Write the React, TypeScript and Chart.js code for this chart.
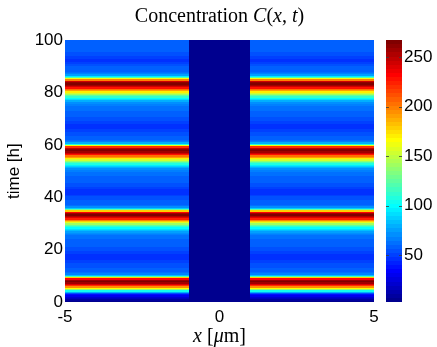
import React, { useEffect, useRef } from "react";
import { Chart, registerables } from "chart.js";

Chart.register(...registerables);

// x bin edges [µm]: left region, central gap, right region
const xEdges = [-5, -1, 1, 5];
// concentration in the central gap
const centerC = 0;
// time bin width [h]
const tStep = 0.5;
// concentration in outer regions, per 0.5 h bin from t = 0
const outerC = [
  6, 10, 16, 22, 30, 38,
  55, 78, 105, 135, 165, 195, 218, 240, 255, 264, 258, 232, 180, 120, 85, 68, 62, 60,
  58, 57, 56, 55, 54, 53, 52, 50, 48, 47, 46, 47, 48, 50, 52, 54, 55, 56, 57, 57, 58, 58, 59, 60, 61, 62, 64, 66,
  70, 75, 82, 90, 100, 112, 125, 140, 158, 178, 200, 222, 240, 254, 263, 258, 232, 180, 125, 88, 70, 63, 60, 59,
  58, 57, 56, 55, 53, 51, 48, 47, 46, 47, 49, 51, 53, 55, 56, 57, 58, 58, 59, 60, 61, 62, 63, 65, 68,
  72, 78, 86, 96, 108, 122, 138, 155, 172, 190, 205, 228, 246, 258, 265, 262, 248, 218, 160, 110, 80, 66, 61, 59, 58,
  57, 56, 55, 54, 52, 50, 48, 47, 47, 48, 50, 52, 54, 55, 56, 57, 58, 58, 59, 60, 61, 62, 63, 64, 66, 69,
  73, 80, 90, 100, 112, 125, 140, 155, 172, 190, 205, 226, 245, 258, 265, 262, 245, 200, 160, 120, 95, 75, 65, 61, 59, 59,
  58, 57, 55, 53, 50, 48, 47, 48, 50, 52, 54, 55, 56, 57, 57, 58, 58, 59, 59, 60, 60, 60,
];
const xTicks = [-5, 0, 5];
const yTicks = [0, 20, 40, 60, 80, 100];
const cbTicks = [50, 100, 150, 200, 250];
const cMin = 3;
const cMax = 267;

// MATLAB jet(64)
function jetU(j: number): number {
  if (j < 1 || j > 47) return 0;
  if (j <= 16) return j / 16;
  if (j <= 31) return 1;
  return (48 - j) / 16;
}
function jet64(k: number): string {
  const i = k + 1;
  const g = i >= 9 && i <= 55 ? jetU(i - 8) : 0;
  const r = i >= 25 ? jetU(i - 24) : 0;
  const b = i <= 39 ? jetU(i + 8) : 0;
  return `rgb(${Math.round(r * 255)},${Math.round(g * 255)},${Math.round(b * 255)})`;
}
function colorFor(v: number): string {
  let k = Math.floor(((v - cMin) / (cMax - cMin)) * 64);
  if (k < 0) k = 0;
  if (k > 63) k = 63;
  return jet64(k);
}

const heatmapPlugin = {
  id: "heatmap",
  beforeDatasetsDraw(chart: any) {
    const { ctx } = chart;
    const xs = chart.scales.x;
    const ys = chart.scales.y;
    ctx.save();
    for (let c = 0; c < xEdges.length - 1; c++) {
      const x0 = Math.round(xs.getPixelForValue(xEdges[c]));
      const x1 = Math.round(xs.getPixelForValue(xEdges[c + 1]));
      for (let i = 0; i < outerC.length; i++) {
        const v = c === 1 ? centerC : outerC[i];
        const y0 = Math.round(ys.getPixelForValue(i * tStep));
        const y1 = Math.round(ys.getPixelForValue((i + 1) * tStep));
        ctx.fillStyle = colorFor(v);
        ctx.fillRect(x0, y1, x1 - x0, y0 - y1);
      }
    }
    // colorbar
    const cb = chart.scales.cb;
    const cx0 = cb.left + 12;
    const cx1 = cb.left + 28;
    for (let k = 0; k < 64; k++) {
      const v0 = cMin + (k * (cMax - cMin)) / 64;
      const v1 = cMin + ((k + 1) * (cMax - cMin)) / 64;
      const p0 = Math.round(cb.getPixelForValue(v0));
      const p1 = Math.round(cb.getPixelForValue(v1));
      ctx.fillStyle = jet64(k);
      ctx.fillRect(cx0, p1, cx1 - cx0, p0 - p1);
    }
    ctx.strokeStyle = "rgba(60,60,60,0.8)";
    ctx.lineWidth = 1;
    for (const t of cbTicks) {
      const py = Math.round(cb.getPixelForValue(t)) + 0.5;
      ctx.beginPath();
      ctx.moveTo(cx0, py);
      ctx.lineTo(cx0 + 3, py);
      ctx.moveTo(cx1, py);
      ctx.lineTo(cx1 - 3, py);
      ctx.stroke();
    }
    ctx.restore();
  },
};

function drawMixed(ctx: any, parts: [string, boolean][], cx: number, baseline: number, size: number, family: string) {
  const widths = parts.map(([s, it]) => {
    ctx.font = `${it ? "italic " : ""}${size}px ${family}`;
    return ctx.measureText(s).width;
  });
  const total = widths.reduce((a, b) => a + b, 0);
  let x = cx - total / 2;
  ctx.textAlign = "left";
  ctx.textBaseline = "alphabetic";
  parts.forEach(([s, it], idx) => {
    ctx.font = `${it ? "italic " : ""}${size}px ${family}`;
    ctx.fillText(s, x, baseline);
    x += widths[idx];
  });
}

const labelsPlugin = {
  id: "labels",
  afterDraw(chart: any) {
    const { ctx, chartArea } = chart;
    const cx = (chartArea.left + chartArea.right) / 2;
    ctx.save();
    ctx.fillStyle = "#000";
    const serif = "'Liberation Serif', 'DejaVu Serif', serif";
    drawMixed(
      ctx,
      [
        ["Concentration ", false],
        ["C", true],
        ["(", false],
        ["x", true],
        [", ", false],
        ["t", true],
        [")", false],
      ],
      cx,
      22,
      20,
      serif
    );
    drawMixed(
      ctx,
      [
        ["x", true],
        [" [", false],
        ["μ", true],
        ["m]", false],
      ],
      cx,
      342,
      20,
      serif
    );
    ctx.translate(19, (chartArea.top + chartArea.bottom) / 2);
    ctx.rotate(-Math.PI / 2);
    ctx.font = "17px 'Liberation Sans', Arial, sans-serif";
    ctx.textAlign = "center";
    ctx.textBaseline = "alphabetic";
    ctx.fillText("time [h]", 0, 0);
    ctx.restore();
  },
};

const tickFont = { family: "'Liberation Sans', Arial, sans-serif", size: 17 };

export default function App() {
  const ref = useRef<HTMLCanvasElement | null>(null);
  useEffect(() => {
    if (!ref.current) return;
    const chart = new Chart(ref.current, {
      type: "scatter",
      data: { datasets: [{ data: [] }] },
      options: {
        animation: false,
        responsive: false,
        layout: { padding: { top: 37.5, left: 0, right: 0, bottom: 0 } },
        plugins: { legend: { display: false }, tooltip: { enabled: false }, title: { display: false } },
        scales: {
          x: {
            type: "linear",
            position: "bottom",
            min: -5,
            max: 5,
            afterBuildTicks: (s: any) => {
              s.ticks = xTicks.map((v) => ({ value: v }));
            },
            afterFit: (s: any) => {
              s.height = 45;
            },
            grid: { display: false, drawTicks: false },
            border: { display: false },
            ticks: { font: tickFont, color: "#000", padding: 5, maxRotation: 0, autoSkip: false },
          },
          y: {
            type: "linear",
            position: "left",
            min: 0,
            max: 100,
            afterBuildTicks: (s: any) => {
              s.ticks = yTicks.map((v) => ({ value: v }));
            },
            afterFit: (s: any) => {
              s.width = 65;
            },
            grid: { display: false, drawTicks: false },
            border: { display: false },
            ticks: { font: tickFont, color: "#000", padding: 2, autoSkip: false },
          },
          cb: {
            type: "linear",
            position: "right",
            min: cMin,
            max: cMax,
            afterBuildTicks: (s: any) => {
              s.ticks = cbTicks.map((v) => ({ value: v }));
            },
            afterFit: (s: any) => {
              s.width = 63;
            },
            grid: { display: false, drawTicks: false },
            border: { display: false },
            ticks: { font: tickFont, color: "#000", padding: 30, autoSkip: false },
          },
        },
      } as any,
      plugins: [heatmapPlugin, labelsPlugin],
    });
    return () => chart.destroy();
  }, []);
  return (
    <div style={{ position: "absolute", left: 0, top: 0, width: 437, height: 347, background: "#fff" }}>
      <canvas ref={ref} width={437} height={347} style={{ display: "block" }} />
    </div>
  );
}
